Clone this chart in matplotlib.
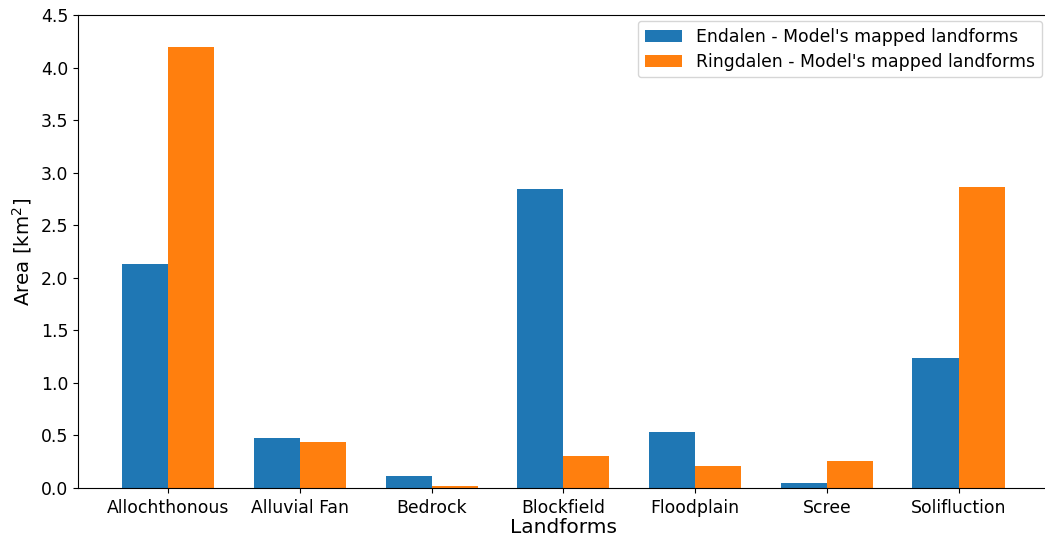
import numpy as np
import matplotlib
matplotlib.use("Agg")
import matplotlib.pyplot as plt

landforms = ["Allochthonous", "Alluvial Fan", "Bedrock", "Blockfield",
             "Floodplain", "Scree", "Solifluction"]
endalen = [2.13, 0.475, 0.115, 2.85, 0.535, 0.045, 1.235]
ringdalen = [4.20, 0.44, 0.02, 0.305, 0.205, 0.26, 2.86]

x = np.arange(len(landforms))
w = 0.35

fig = plt.figure(figsize=(10.45, 5.41), dpi=100)
ax = fig.add_axes([0.0746, 0.098, 0.929, 0.874])

ax.bar(x - w / 2, endalen, w, color="#1f77b4",
       label="Endalen - Model's mapped landforms")
ax.bar(x + w / 2, ringdalen, w, color="#ff7f0e",
       label="Ringdalen - Model's mapped landforms")

ax.set_xticks(x)
ax.set_xticklabels(landforms, fontsize=12.4)
ax.set_ylim(0, 4.5)
ax.set_yticks(np.arange(0, 4.51, 0.5))
ax.tick_params(axis="y", labelsize=12.4)
ax.tick_params(axis="x", pad=4.5)
ax.spines["right"].set_visible(False)
ax.set_xlabel("Landforms", fontsize=14.5, labelpad=1)
ax.set_ylabel("Area [km$^2$]", fontsize=14.2, labelpad=5)
ax.legend(loc="upper right", fontsize=12.4, bbox_to_anchor=(0.9985, 0.999),
          borderaxespad=0.3, handlelength=2.2, labelspacing=0.4)

fig.savefig("out.png", dpi=100)
